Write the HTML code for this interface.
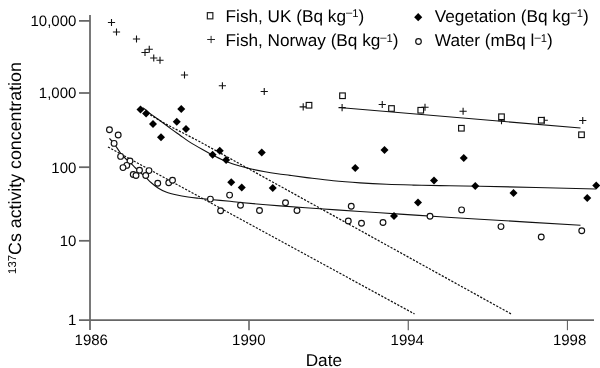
<!DOCTYPE html>
<html><head><meta charset="utf-8"><title>137Cs activity concentration</title>
<style>
html,body{margin:0;padding:0;background:#fff;}
body{width:600px;height:368px;overflow:hidden;font-family:"Liberation Sans",sans-serif;}
svg{display:block;will-change:transform;font-family:"Liberation Sans",sans-serif;}
text{fill:#000;text-rendering:geometricPrecision;}
</style></head><body>
<svg width="600" height="368" viewBox="0 0 600 368">
<rect width="600" height="368" fill="#fff"/>
<g stroke="#666" stroke-width="1.75" fill="none">
<line x1="90" y1="15" x2="90" y2="330"/>
<line x1="79" y1="320" x2="594" y2="320"/>
<line x1="79" y1="20.9" x2="90" y2="20.9"/>
<line x1="79" y1="93" x2="90" y2="93"/>
<line x1="79" y1="167.2" x2="90" y2="167.2"/>
<line x1="79" y1="240.8" x2="90" y2="240.8"/>
<line x1="249" y1="320" x2="249" y2="330.2" stroke-width="1.6" stroke="#666"/>
<line x1="408.25" y1="320" x2="408.25" y2="330.2" stroke-width="1.1" stroke="#555"/>
<line x1="567.4" y1="320" x2="567.4" y2="330.2" stroke-width="1.0" stroke="#555"/>
</g>
<g font-size="15px" text-anchor="end">
<text x="76.4" y="26.3">10,000</text>
<text x="76.4" y="98.4">1,000</text>
<text x="76.4" y="172.6">100</text>
<text x="76.4" y="246.2">10</text>
<text x="76.4" y="325.2">1</text>
</g>
<g font-size="15px" text-anchor="middle">
<text x="91.25" y="344.9">1986</text>
<text x="248.8" y="344.9">1990</text>
<text x="407.25" y="344.9">1994</text>
<text x="569.6" y="344.9">1998</text>
</g>
<text x="305.7" y="366.3" font-size="17.2px">Date</text>
<text transform="translate(20.8,273.9) rotate(-90)" font-size="17.8px"><tspan font-size="11.4px" dy="-5.3">137</tspan><tspan dy="5.3">Cs activity concentration</tspan></text>
<g font-size="17.2px">
<text x="225.6" y="21.6">Fish, UK (Bq kg<tspan font-size="11.2px" dy="-5.5">–</tspan><tspan font-size="11.2px" dy="1.1">1</tspan><tspan dy="4.4">)</tspan></text>
<text x="225.6" y="46.2">Fish, Norway (Bq kg<tspan font-size="11.2px" dy="-5.5">–</tspan><tspan font-size="11.2px" dy="1.1">1</tspan><tspan dy="4.4">)</tspan></text>
<text x="434.8" y="21.6">Vegetation (Bq kg<tspan font-size="11.2px" dy="-5.5">–</tspan><tspan font-size="11.2px" dy="1.1">1</tspan><tspan dy="4.4">)</tspan></text>
<text x="434.8" y="46.2">Water (mBq l<tspan font-size="11.2px" dy="-5.5">–</tspan><tspan font-size="11.2px" dy="1.1">1</tspan><tspan dy="4.4">)</tspan></text>
</g>
<rect x="207.35" y="12.65" width="5.5" height="6.2" fill="#fff" stroke="#222" stroke-width="1.2"/>
<path d="M207.2 39.5h7.8M211.1 35.9v7.2" stroke="#111" stroke-width="0.9" fill="none"/>
<path d="M418.2 13.1l4.05 4.1l-4.05 4.1l-4.05-4.1z" fill="#000"/>
<circle cx="418.5" cy="41.5" r="2.8" fill="#fff" stroke="#111" stroke-width="1.2"/>
<g stroke="#111" stroke-width="1.1" fill="none">
<path d="M142.60 107.60 C143.13 107.98 144.37 108.77 145.80 109.90 C147.23 111.03 148.80 112.58 151.20 114.40 C153.60 116.22 157.07 118.52 160.20 120.80 C163.33 123.08 166.70 125.70 170.00 128.10 C173.30 130.50 176.83 132.95 180.00 135.20 C183.17 137.45 185.25 139.22 189.00 141.60 C192.75 143.98 198.17 147.06 202.50 149.50 C206.83 151.94 210.83 154.17 215.00 156.25 C219.17 158.33 223.33 160.38 227.50 162.00 C231.67 163.62 235.83 164.79 240.00 166.00 C244.17 167.21 248.33 168.29 252.50 169.25 C256.67 170.21 260.83 171.00 265.00 171.75 C269.17 172.50 273.33 173.14 277.50 173.75 C281.67 174.36 285.13 174.76 290.00 175.40 C294.87 176.04 299.48 176.70 306.70 177.60 C313.92 178.50 324.42 179.92 333.30 180.80 C342.18 181.68 351.10 182.32 360.00 182.90 C368.90 183.48 377.82 183.93 386.70 184.30 C395.58 184.67 404.42 184.88 413.30 185.10 C422.18 185.32 428.88 185.42 440.00 185.60 C451.12 185.78 454.00 185.63 480.00 186.20 C506.00 186.77 576.67 188.53 596.00 189.00"/>
<path d="M109.40 138.40 C110.17 139.25 112.15 141.07 114.00 143.50 C115.85 145.93 118.58 150.50 120.50 153.00 C122.42 155.50 123.92 156.92 125.50 158.50 C127.08 160.08 128.33 160.92 130.00 162.50 C131.67 164.08 133.67 166.25 135.50 168.00 C137.33 169.75 139.25 171.42 141.00 173.00 C142.75 174.58 144.33 175.92 146.00 177.50 C147.67 179.08 149.00 180.75 151.00 182.50 C153.00 184.25 155.50 186.42 158.00 188.00 C160.50 189.58 162.83 190.83 166.00 192.00 C169.17 193.17 173.33 194.17 177.00 195.00 C180.67 195.83 184.42 196.45 188.00 197.00 C191.58 197.55 194.75 197.88 198.50 198.30 C202.25 198.72 205.25 199.00 210.50 199.50 C215.75 200.00 225.00 200.80 230.00 201.30 C235.00 201.80 232.17 201.73 240.50 202.50 C248.83 203.27 266.75 204.85 280.00 205.90 C293.25 206.95 306.67 207.87 320.00 208.80 C333.33 209.73 346.67 210.62 360.00 211.50 C373.33 212.38 386.67 213.22 400.00 214.10 C413.33 214.98 426.67 215.94 440.00 216.80 C453.33 217.66 456.58 217.84 480.00 219.25 C503.42 220.66 563.75 224.25 580.50 225.25"/>
<line x1="342" y1="107.75" x2="580.5" y2="128"/>
<polyline points="147,112.9 165,123.6 199,141.3 511.25,314" stroke-width="1.25" stroke-dasharray="2.2 1.46"/>
<line x1="108" y1="147" x2="414.5" y2="313.9" stroke-width="1.25" stroke-dasharray="2.2 1.46"/>
</g>
<g stroke="#111" stroke-width="1.1" fill="none">
<path d="M107.90 22.50h7.2M111.50 18.90v7.2M112.90 32.00h7.2M116.50 28.40v7.2M132.90 39.00h7.2M136.50 35.40v7.2M141.40 52.50h7.2M145.00 48.90v7.2M145.65 49.25h7.2M149.25 45.65v7.2M150.15 58.00h7.2M153.75 54.40v7.2M156.40 60.25h7.2M160.00 56.65v7.2M180.90 75.00h7.2M184.50 71.40v7.2M218.80 85.75h7.2M222.40 82.15v7.2M260.65 91.50h7.2M264.25 87.90v7.2M299.60 106.90h7.2M303.20 103.30v7.2M338.50 107.60h7.2M342.10 104.00v7.2M378.65 104.50h7.2M382.25 100.90v7.2M421.40 107.25h7.2M425.00 103.65v7.2M459.50 111.25h7.2M463.10 107.65v7.2M497.90 120.75h7.2M501.50 117.15v7.2M540.65 120.25h7.2M544.25 116.65v7.2M579.15 120.50h7.2M582.75 116.90v7.2"/>
</g>
<g stroke="#111" stroke-width="1.15" fill="#fff">
<rect x="306.20" y="102.45" width="5.6" height="5.6"/>
<rect x="339.70" y="92.95" width="5.6" height="5.6"/>
<rect x="388.70" y="105.70" width="5.6" height="5.6"/>
<rect x="417.95" y="107.45" width="5.6" height="5.6"/>
<rect x="458.60" y="125.45" width="5.6" height="5.6"/>
<rect x="498.70" y="113.95" width="5.6" height="5.6"/>
<rect x="538.45" y="117.45" width="5.6" height="5.6"/>
<rect x="578.70" y="131.95" width="5.6" height="5.6"/>
</g>
<g stroke="#111" stroke-width="1.15" fill="#fff">
<circle cx="109.45" cy="129.80" r="2.88"/>
<circle cx="118.20" cy="135.00" r="2.88"/>
<circle cx="114.10" cy="143.40" r="2.88"/>
<circle cx="120.60" cy="156.40" r="2.88"/>
<circle cx="130.00" cy="161.00" r="2.88"/>
<circle cx="126.75" cy="165.40" r="2.88"/>
<circle cx="123.00" cy="167.60" r="2.88"/>
<circle cx="139.50" cy="170.30" r="2.88"/>
<circle cx="149.00" cy="170.60" r="2.88"/>
<circle cx="133.25" cy="174.50" r="2.88"/>
<circle cx="136.00" cy="175.50" r="2.88"/>
<circle cx="145.75" cy="175.50" r="2.88"/>
<circle cx="157.75" cy="183.25" r="2.88"/>
<circle cx="168.75" cy="182.75" r="2.88"/>
<circle cx="172.50" cy="180.25" r="2.88"/>
<circle cx="210.40" cy="199.10" r="2.88"/>
<circle cx="229.60" cy="195.10" r="2.88"/>
<circle cx="220.60" cy="210.80" r="2.88"/>
<circle cx="240.50" cy="205.25" r="2.88"/>
<circle cx="259.50" cy="210.50" r="2.88"/>
<circle cx="285.50" cy="202.75" r="2.88"/>
<circle cx="297.00" cy="210.50" r="2.88"/>
<circle cx="348.30" cy="221.00" r="2.88"/>
<circle cx="351.25" cy="206.25" r="2.88"/>
<circle cx="361.50" cy="223.25" r="2.88"/>
<circle cx="383.00" cy="222.50" r="2.88"/>
<circle cx="430.00" cy="216.25" r="2.88"/>
<circle cx="461.60" cy="209.90" r="2.88"/>
<circle cx="501.00" cy="226.60" r="2.88"/>
<circle cx="541.25" cy="237.00" r="2.88"/>
<circle cx="581.75" cy="230.80" r="2.88"/>
</g>
<g fill="#000">
<path d="M140.50 105.60l4 4l-4 4l-4-4zM146.10 109.50l4 4l-4 4l-4-4zM153.00 119.90l4 4l-4 4l-4-4zM161.00 133.20l4 4l-4 4l-4-4zM176.75 117.75l4 4l-4 4l-4-4zM181.25 105.00l4 4l-4 4l-4-4zM186.00 125.00l4 4l-4 4l-4-4zM212.60 150.75l4 4l-4 4l-4-4zM219.75 146.75l4 4l-4 4l-4-4zM226.10 156.10l4 4l-4 4l-4-4zM231.25 178.25l4 4l-4 4l-4-4zM241.75 183.50l4 4l-4 4l-4-4zM261.75 148.50l4 4l-4 4l-4-4zM272.75 184.00l4 4l-4 4l-4-4zM355.25 164.00l4 4l-4 4l-4-4zM384.50 146.00l4 4l-4 4l-4-4zM394.00 212.00l4 4l-4 4l-4-4zM418.00 198.50l4 4l-4 4l-4-4zM434.00 176.50l4 4l-4 4l-4-4zM463.75 154.00l4 4l-4 4l-4-4zM475.25 182.10l4 4l-4 4l-4-4zM513.50 189.00l4 4l-4 4l-4-4zM587.25 194.00l4 4l-4 4l-4-4zM596.25 181.50l4 4l-4 4l-4-4z"/>
</g>
</svg></body></html>
